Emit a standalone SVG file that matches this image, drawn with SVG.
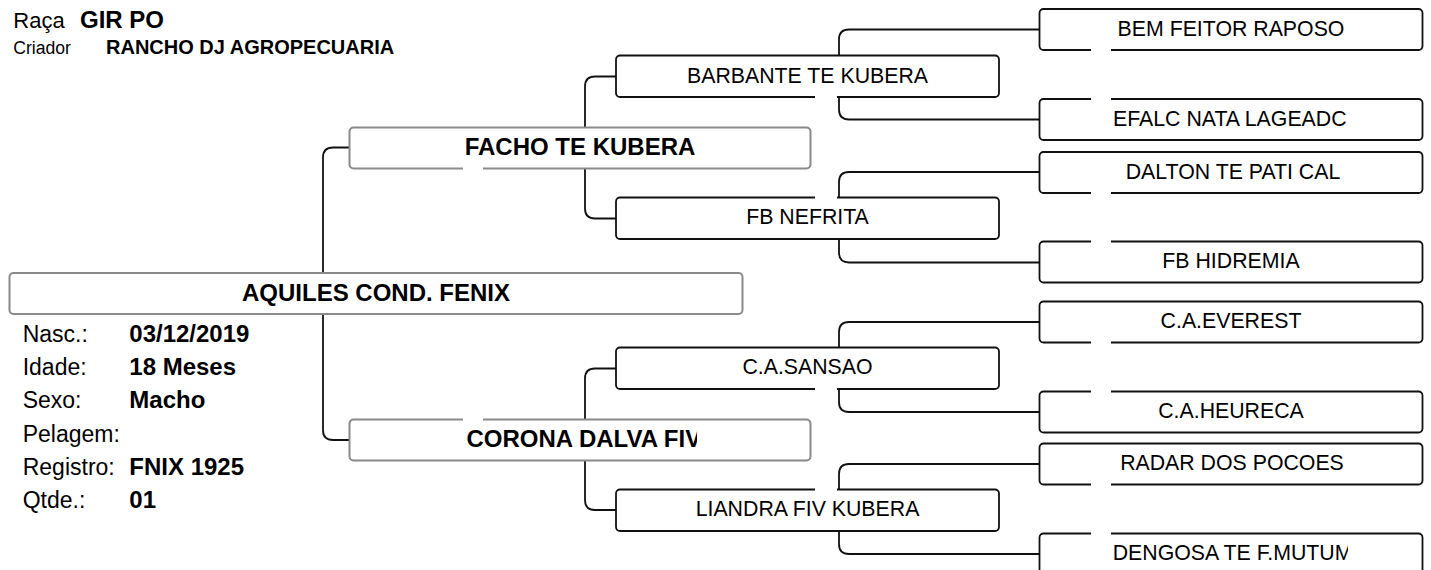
<svg xmlns="http://www.w3.org/2000/svg" width="1431" height="570" viewBox="0 0 1431 570">
<style>
text{font-family:"Liberation Sans",Arial,sans-serif;fill:#000}
.n{font-size:21.3px}
.b{font-size:24px;font-weight:bold}
.lab{font-size:23px}
.c{text-anchor:middle}
.g{fill:#fff;stroke:#8a8a8a;stroke-width:2}
.k{fill:#fff;stroke:#111;stroke-width:1.8}
.cn{fill:none;stroke:#111;stroke-width:1.8}
.gap{fill:#fff}
</style>
<defs>
<clipPath id="clipCorona"><rect x="349" y="419" width="348" height="42"/></clipPath>
<clipPath id="clipDengosa"><rect x="1039" y="533" width="309" height="42"/></clipPath>
</defs>

<g id="header">
<text x="13.3" y="28.3" style="font-size:22px">Raça</text>
<text x="80" y="28.3" class="b">GIR PO</text>
<text x="13.3" y="54.3" style="font-size:17.6px">Criador</text>
<text x="106" y="54.3" style="font-size:20px;font-weight:bold">RANCHO DJ AGROPECUARIA</text>
</g>

<g id="connectors">
<path class="cn" d="M349 147.5 H333 Q323 147.5 323 157.5 V430 Q323 440 333 440 H349"/>
<path class="cn" d="M616 76.5 H595 Q585 76.5 585 86.5 V208.5 Q585 218.5 595 218.5 H616"/>
<path class="cn" d="M616 368.5 H595 Q585 368.5 585 378.5 V500 Q585 510 595 510 H616"/>
<path class="cn" d="M1039.5 29.5 H849 Q839 29.5 839 39.5 V109.5 Q839 119.5 849 119.5 H1039.5"/>
<path class="cn" d="M1039.5 172 H849 Q839 172 839 182 V252.5 Q839 262.5 849 262.5 H1039.5"/>
<path class="cn" d="M1039.5 322 H849 Q839 322 839 332 V402 Q839 412 849 412 H1039.5"/>
<path class="cn" d="M1039.5 464 H849 Q839 464 839 474 V544 Q839 554 849 554 H1039.5"/>
</g>

<g id="node-aquiles">
<rect class="g" x="9.5" y="273" width="733" height="41" rx="4"/>
<text x="376" y="301" class="b c">AQUILES COND. FENIX</text>
</g>

<g id="info">
<text x="22.7" y="341.7" class="lab">Nasc.:</text>
<text x="129.3" y="341.7" class="b">03/12/2019</text>
<text x="22.7" y="375" class="lab">Idade:</text>
<text x="129.3" y="375" class="b">18 Meses</text>
<text x="22.7" y="408.3" class="lab">Sexo:</text>
<text x="129.3" y="408.3" class="b">Macho</text>
<text x="22.7" y="441.7" class="lab">Pelagem:</text>
<text x="22.7" y="475" class="lab">Registro:</text>
<text x="129.3" y="475" class="b">FNIX 1925</text>
<text x="22.7" y="508.3" class="lab">Qtde.:</text>
<text x="129.3" y="508.3" class="b">01</text>
</g>

<g id="node-facho">
<rect class="g" x="349.5" y="127.5" width="461" height="41" rx="4"/>
<text x="580" y="154.5" class="b c">FACHO TE KUBERA</text>
</g>
<g id="node-corona">
<rect class="g" x="349.5" y="419.5" width="461" height="41" rx="4"/>
<text x="466.5" y="446.5" class="b" clip-path="url(#clipCorona)">CORONA DALVA FIV</text>
</g>

<g id="node-barbante">
<rect class="k" x="616" y="55.5" width="383" height="41.5" rx="4"/>
<text x="807.5" y="82.5" class="n c">BARBANTE TE KUBERA</text>
</g>
<g id="node-fbnefrita">
<rect class="k" x="616" y="197.5" width="383" height="41.5" rx="4"/>
<text x="807.5" y="224" class="n c">FB NEFRITA</text>
</g>
<g id="node-sansao">
<rect class="k" x="616" y="347.5" width="383" height="41.5" rx="4"/>
<text x="807.5" y="374" class="n c">C.A.SANSAO</text>
</g>
<g id="node-liandra">
<rect class="k" x="616" y="489.5" width="383" height="41.5" rx="4"/>
<text x="807.5" y="516" class="n c">LIANDRA FIV KUBERA</text>
</g>

<g id="node-bemfeitor">
<rect class="k" x="1039.5" y="9" width="383" height="41" rx="4"/>
<text x="1231" y="35.5" class="n c">BEM FEITOR RAPOSO</text>
</g>
<g id="node-efalc">
<rect class="k" x="1039.5" y="99" width="383" height="41" rx="4"/>
<text x="1113" y="125.5" class="n">EFALC NATA LAGEADC</text>
</g>
<g id="node-dalton">
<rect class="k" x="1039.5" y="152" width="383" height="41" rx="4"/>
<text x="1233" y="178.5" class="n c">DALTON TE PATI CAL</text>
</g>
<g id="node-hidremia">
<rect class="k" x="1039.5" y="241.5" width="383" height="41" rx="4"/>
<text x="1231" y="268" class="n c">FB HIDREMIA</text>
</g>
<g id="node-everest">
<rect class="k" x="1039.5" y="301.5" width="383" height="41" rx="4"/>
<text x="1231" y="328" class="n c">C.A.EVEREST</text>
</g>
<g id="node-heureca">
<rect class="k" x="1039.5" y="391.5" width="383" height="41" rx="4"/>
<text x="1231" y="418" class="n c">C.A.HEURECA</text>
</g>
<g id="node-radar">
<rect class="k" x="1039.5" y="443.5" width="383" height="41" rx="4"/>
<text x="1232" y="470" class="n c">RADAR DOS POCOES</text>
</g>
<g id="node-dengosa">
<rect class="k" x="1039.5" y="533.5" width="383" height="41" rx="4"/>
<text x="1112.7" y="560" class="n" clip-path="url(#clipDengosa)">DENGOSA TE F.MUTUM</text>
</g>

<g id="gaps">
<rect class="gap" x="463" y="167" width="20" height="3"/>
<rect class="gap" x="463" y="418" width="20" height="3"/>
<rect class="gap" x="815" y="95.5" width="22" height="3"/>
<rect class="gap" x="815" y="196" width="22" height="3"/>
<rect class="gap" x="815" y="387.5" width="22" height="3"/>
<rect class="gap" x="815" y="488" width="22" height="3"/>
<rect class="gap" x="1091" y="48.5" width="20" height="3"/>
<rect class="gap" x="1091" y="97.5" width="20" height="3"/>
<rect class="gap" x="1091" y="191.5" width="20" height="3"/>
<rect class="gap" x="1091" y="240" width="20" height="3"/>
<rect class="gap" x="1091" y="341" width="20" height="3"/>
<rect class="gap" x="1091" y="390" width="20" height="3"/>
<rect class="gap" x="1091" y="483" width="20" height="3"/>
<rect class="gap" x="1091" y="532" width="20" height="3"/>
</g>
</svg>
